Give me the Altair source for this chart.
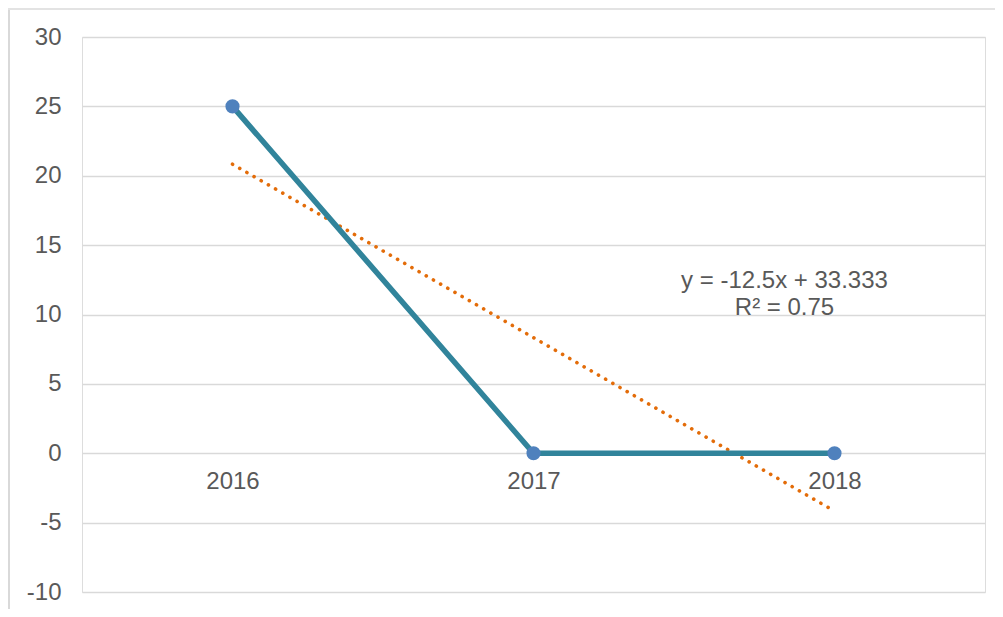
import altair as alt
import pandas as pd

years = ["2016", "2017", "2018"]
values = [25, 0, 0]
slope = -12.5
intercept = 33.333
r2 = 0.75
trend = [intercept + slope * (i + 1) for i in range(len(years))]
eq_lines = ["y = -12.5x + 33.333", "R² = 0.75"]
y_ticks = [-10, -5, 0, 5, 10, 15, 20, 25, 30]

df = pd.DataFrame({"year": years, "value": values, "trend": trend})
lab = pd.DataFrame({"year": ["2018"], "y": [12.4], "txt": [eq_lines]})

FONT = "Liberation Sans"
GREY = "#595959"
FS = 24

xs = alt.X("year:N", sort=years,
           scale=alt.Scale(type="point", padding=0.5),
           axis=alt.Axis(title=None, labelAngle=0, domain=False, ticks=False, grid=False,
                         offset=-139, labelPadding=16, labelFontSize=FS,
                         labelColor=GREY, labelFont=FONT))
ys = alt.Y("value:Q", scale=alt.Scale(domain=[-10, 30], nice=False, zero=False),
           axis=alt.Axis(title=None, values=y_ticks, domain=False, ticks=False,
                         labelExpr="toString(datum.value)",
                         labelPadding=21, labelFontSize=FS, labelColor=GREY,
                         labelFont=FONT, gridColor="#D9D9D9", gridWidth=1.6))

base = alt.Chart(df)

line = base.mark_line(color="#31849B", strokeWidth=5.5).encode(x=xs, y=ys)
pts = base.mark_point(filled=True, size=200, color="#4F81BD", opacity=1).encode(x=xs, y=ys)
tl = base.mark_line(color="#E36C09", strokeWidth=3.6, strokeDash=[0.1, 8.181],
                    strokeCap="round").encode(x=xs, y="trend:Q")
txt = alt.Chart(lab).mark_text(font=FONT, fontSize=FS, color=GREY, align="center",
                               baseline="middle", lineHeight=27, dx=-50).encode(
    x=alt.X("year:N", sort=years), y="y:Q", text="txt")

left_border = alt.Chart(df).mark_rule(color="#D9D9D9", strokeWidth=2).encode(
    x=alt.value(-73), y=alt.value(-29), y2=alt.value(601))
top_border = alt.Chart(df).mark_rule(color="#E3E3E3", strokeWidth=2).encode(
    x=alt.value(-74), x2=alt.value(913), y=alt.value(-28))

chart = alt.layer(tl, line, pts, txt, left_border, top_border).properties(
    width=903, height=555,
    autosize=alt.AutoSizeParams(type="none"),
    padding={"left": 74, "top": 29, "right": 10, "bottom": 17},
).configure_view(stroke=None).configure(background="white")

chart.save("out.html", embed_options={"renderer": "svg", "actions": False})
